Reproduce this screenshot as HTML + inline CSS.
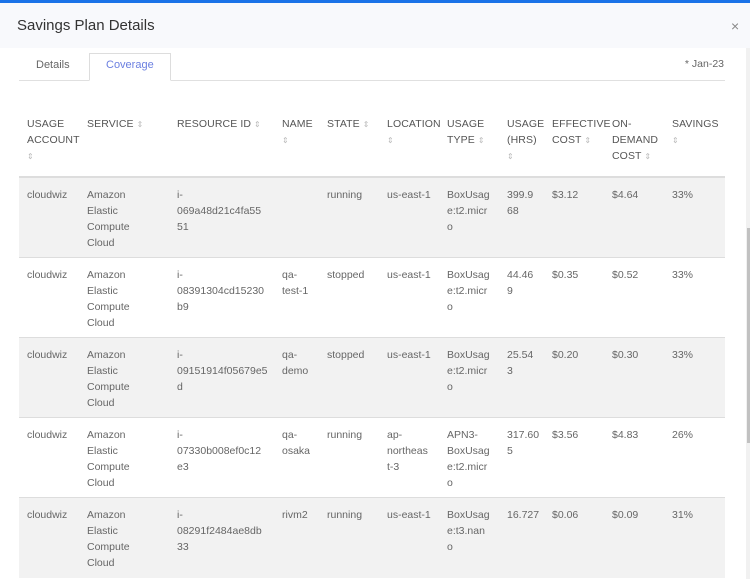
<!DOCTYPE html>
<html><head><meta charset="utf-8"><style>
*{margin:0;padding:0;box-sizing:border-box}
body{width:750px;height:579px;overflow:hidden;background:#fff;font-family:"Liberation Sans",sans-serif;position:relative;color:#666}
.a{position:absolute}
.t{position:absolute;font-size:10.5px;line-height:16px;color:#666;white-space:pre}
.h{color:#555;letter-spacing:0.1px}
.s{font-size:8px;color:#bbb}
.row{position:absolute;left:19px;width:706px;height:80px;border-bottom:1px solid #ddd}
</style></head><body>
<div class="a" style="left:0;top:0;width:750px;height:3px;background:#1a73e8"></div>
<div class="a" style="left:0;top:3px;width:750px;height:45px;background:#f8f9fc"></div>
<div class="a" style="left:17px;top:17px;font-size:15px;color:#333">Savings Plan Details</div>
<div class="a" style="left:731px;top:18px;font-size:14px;color:#888">×</div>
<div class="a" style="left:746px;top:48px;width:4px;height:531px;background:#f1f1f1"></div>
<div class="a" style="left:747px;top:228px;width:3px;height:215px;background:#c1c1c1"></div>
<div class="a" style="left:19px;top:80px;width:706px;height:1px;background:#e0e0e0"></div>
<div class="a" style="left:89px;top:53px;width:82px;height:28px;border:1px solid #ddd;border-bottom:1px solid #fff;background:#fff"></div>
<div class="a" style="left:36px;top:59px;font-size:11px;color:#666">Details</div>
<div class="a" style="left:106px;top:59px;font-size:11px;color:#6b7fe0">Coverage</div>
<div class="a" style="right:26px;top:58px;font-size:10.5px;color:#666">* Jan-23</div>
<div class="a" style="left:19px;top:176px;width:706px;height:2px;background:#ddd"></div>
<div class="row" style="top:178px;background:#f2f2f2"></div>
<div class="row" style="top:258px;background:#fff"></div>
<div class="row" style="top:338px;background:#f2f2f2"></div>
<div class="row" style="top:418px;background:#fff"></div>
<div class="row" style="top:498px;background:#f2f2f2;border:none"></div>
<div class="t h" style="left:27px;top:116px">USAGE
ACCOUNT
<span class="s">⇕</span></div>
<div class="t h" style="left:87px;top:116px">SERVICE <span class="s">⇕</span></div>
<div class="t h" style="left:177px;top:116px">RESOURCE ID <span class="s">⇕</span></div>
<div class="t h" style="left:282px;top:116px">NAME
<span class="s">⇕</span></div>
<div class="t h" style="left:327px;top:116px">STATE <span class="s">⇕</span></div>
<div class="t h" style="left:387px;top:116px">LOCATION
<span class="s">⇕</span></div>
<div class="t h" style="left:447px;top:116px">USAGE
TYPE <span class="s">⇕</span></div>
<div class="t h" style="left:507px;top:116px">USAGE
(HRS)
<span class="s">⇕</span></div>
<div class="t h" style="left:552px;top:116px">EFFECTIVE
COST <span class="s">⇕</span></div>
<div class="t h" style="left:612px;top:116px">ON-
DEMAND
COST <span class="s">⇕</span></div>
<div class="t h" style="left:672px;top:116px">SAVINGS
<span class="s">⇕</span></div>

<div class="t" style="left:27px;top:187px">cloudwiz</div>
<div class="t" style="left:87px;top:187px">Amazon
Elastic
Compute
Cloud</div>
<div class="t" style="left:177px;top:187px">i-
069a48d21c4fa55
51</div>
<div class="t" style="left:327px;top:187px">running</div>
<div class="t" style="left:387px;top:187px">us-east-1</div>
<div class="t" style="left:447px;top:187px">BoxUsag
e:t2.micr
o</div>
<div class="t" style="left:507px;top:187px">399.9
68</div>
<div class="t" style="left:552px;top:187px">$3.12</div>
<div class="t" style="left:612px;top:187px">$4.64</div>
<div class="t" style="left:672px;top:187px">33%</div>

<div class="t" style="left:27px;top:267px">cloudwiz</div>
<div class="t" style="left:87px;top:267px">Amazon
Elastic
Compute
Cloud</div>
<div class="t" style="left:177px;top:267px">i-
08391304cd15230
b9</div>
<div class="t" style="left:282px;top:267px">qa-
test-1</div>
<div class="t" style="left:327px;top:267px">stopped</div>
<div class="t" style="left:387px;top:267px">us-east-1</div>
<div class="t" style="left:447px;top:267px">BoxUsag
e:t2.micr
o</div>
<div class="t" style="left:507px;top:267px">44.46
9</div>
<div class="t" style="left:552px;top:267px">$0.35</div>
<div class="t" style="left:612px;top:267px">$0.52</div>
<div class="t" style="left:672px;top:267px">33%</div>

<div class="t" style="left:27px;top:347px">cloudwiz</div>
<div class="t" style="left:87px;top:347px">Amazon
Elastic
Compute
Cloud</div>
<div class="t" style="left:177px;top:347px">i-
09151914f05679e5
d</div>
<div class="t" style="left:282px;top:347px">qa-
demo</div>
<div class="t" style="left:327px;top:347px">stopped</div>
<div class="t" style="left:387px;top:347px">us-east-1</div>
<div class="t" style="left:447px;top:347px">BoxUsag
e:t2.micr
o</div>
<div class="t" style="left:507px;top:347px">25.54
3</div>
<div class="t" style="left:552px;top:347px">$0.20</div>
<div class="t" style="left:612px;top:347px">$0.30</div>
<div class="t" style="left:672px;top:347px">33%</div>

<div class="t" style="left:27px;top:427px">cloudwiz</div>
<div class="t" style="left:87px;top:427px">Amazon
Elastic
Compute
Cloud</div>
<div class="t" style="left:177px;top:427px">i-
07330b008ef0c12
e3</div>
<div class="t" style="left:282px;top:427px">qa-
osaka</div>
<div class="t" style="left:327px;top:427px">running</div>
<div class="t" style="left:387px;top:427px">ap-
northeas
t-3</div>
<div class="t" style="left:447px;top:427px">APN3-
BoxUsag
e:t2.micr
o</div>
<div class="t" style="left:507px;top:427px">317.60
5</div>
<div class="t" style="left:552px;top:427px">$3.56</div>
<div class="t" style="left:612px;top:427px">$4.83</div>
<div class="t" style="left:672px;top:427px">26%</div>

<div class="t" style="left:27px;top:507px">cloudwiz</div>
<div class="t" style="left:87px;top:507px">Amazon
Elastic
Compute
Cloud</div>
<div class="t" style="left:177px;top:507px">i-
08291f2484ae8db
33</div>
<div class="t" style="left:282px;top:507px">rivm2</div>
<div class="t" style="left:327px;top:507px">running</div>
<div class="t" style="left:387px;top:507px">us-east-1</div>
<div class="t" style="left:447px;top:507px">BoxUsag
e:t3.nan
o</div>
<div class="t" style="left:507px;top:507px">16.727</div>
<div class="t" style="left:552px;top:507px">$0.06</div>
<div class="t" style="left:612px;top:507px">$0.09</div>
<div class="t" style="left:672px;top:507px">31%</div>
</body></html>
